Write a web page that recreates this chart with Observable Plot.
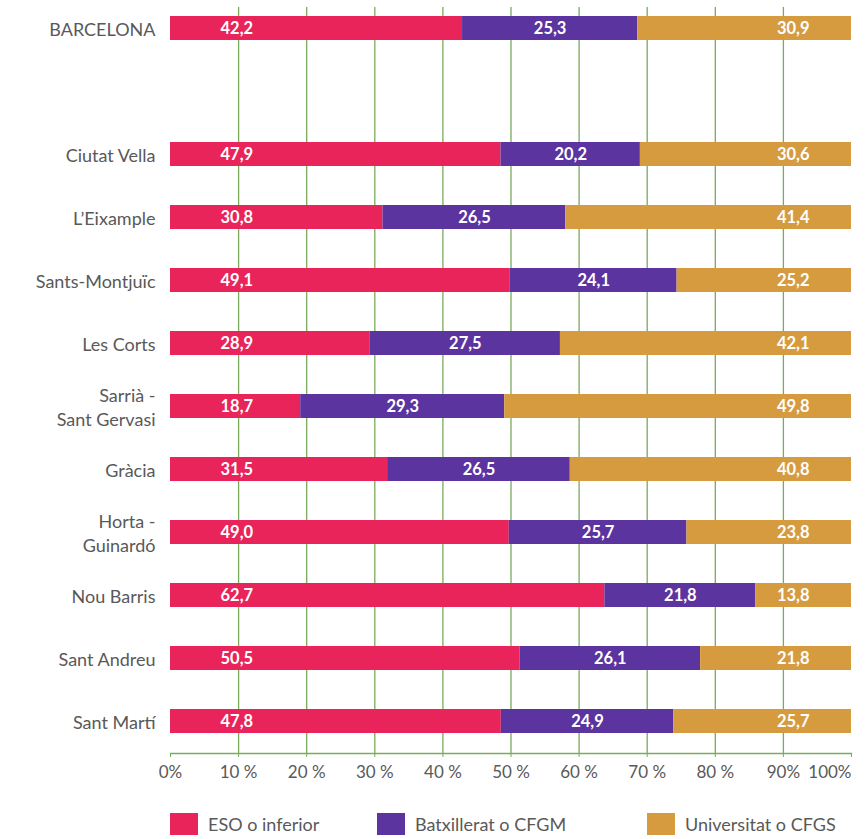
<!DOCTYPE html>
<html>
<head>
<meta charset="utf-8">
<script src="https://cdn.jsdelivr.net/npm/d3@7"></script>
<script src="https://cdn.jsdelivr.net/npm/@observablehq/plot@0.6"></script>
<style>
  body { margin: 0; background: #fff; font-family: Lato, "Open Sans", sans-serif; }
  #chart { position: relative; width: 868px; }
  #legend { position: relative; width: 868px; height: 49px; }
  .item { position: absolute; top: 23px; display: flex; align-items: center; font-size: 18px; color: #595959; }
  .sw { width: 28px; height: 22px; margin-right: 10px; }
</style>
</head>
<body>
<div id="chart"></div>
<div id="legend"></div>
<script>
const districts = ["BARCELONA", "Ciutat Vella", "L’Eixample", "Sants-Montjuïc", "Les Corts",
  "Sarrià -\nSant Gervasi", "Gràcia", "Horta -\nGuinardó", "Nou Barris", "Sant Andreu", "Sant Martí"];
const eso  = [42.2, 47.9, 30.8, 49.1, 28.9, 18.7, 31.5, 49.0, 62.7, 50.5, 47.8];
const batx = [25.3, 20.2, 26.5, 24.1, 27.5, 29.3, 26.5, 25.7, 21.8, 26.1, 24.9];
const univ = [30.9, 30.6, 41.4, 25.2, 42.1, 49.8, 40.8, 23.8, 13.8, 21.8, 25.7];
const levels = ["ESO o inferior", "Batxillerat o CFGM", "Universitat o CFGS"];
const colors = ["#e8245a", "#5b34a0", "#d69b3f"];
const tickPercents = [0, 10, 20, 30, 40, 50, 60, 70, 80, 90, 100];
const tickLabels = ["0%", "10 %", "20 %", "30 %", "40 %", "50 %", "60 %", "70 %", "80 %", "90%", "100%"];

const series = [eso, batx, univ];
const data = [];
districts.forEach((d, i) => levels.forEach((l, j) => data.push({district: d, level: l, value: series[j][i]})));

const spacer = " ";
const yDomain = [districts[0], spacer, ...districts.slice(1)];
const fmt = v => v.toFixed(1).replace(".", ",");
const labelOf = new Map(tickPercents.map((p, i) => [p, tickLabels[i]]));
const ticks = tickPercents.map(p => p / 100);
const green = "#79ab5b";
const gray = "#595959";
const stackOpts = {x: "value", y: "district", z: "level", offset: "normalize"};

const chart = Plot.plot({
  width: 868,
  height: 790,
  marginLeft: 170,
  marginRight: 17,
  marginTop: 7,
  marginBottom: 37,
  style: {fontFamily: "Lato, 'Open Sans', sans-serif", background: "#fff"},
  x: {domain: [0, 1]},
  y: {domain: yDomain, paddingInner: 0.615, paddingOuter: 0.1, insetTop: 1, insetBottom: 11},
  color: {domain: levels, range: colors},
  marks: [
    Plot.gridX(ticks.slice(1, -1), {stroke: green, strokeOpacity: 1, strokeWidth: 1.3}),
    Plot.barX(data, Plot.stackX({...stackOpts, fill: "level"})),
    Plot.text(data, Plot.stackX1({...stackOpts, text: d => d.level === levels[0] ? fmt(d.value) : "",
      textAnchor: "start", dx: 50, fill: "white", fontWeight: "bold", fontSize: 16.5})),
    Plot.text(data, Plot.stackX({...stackOpts, text: d => d.level === levels[1] ? fmt(d.value) : "",
      textAnchor: "middle", fill: "white", fontWeight: "bold", fontSize: 16.5})),
    Plot.text(data, Plot.stackX2({...stackOpts, text: d => d.level === levels[2] ? fmt(d.value) : "",
      textAnchor: "end", dx: -42, fill: "white", fontWeight: "bold", fontSize: 16.5})),
    Plot.frame({anchor: "bottom", stroke: green, strokeWidth: 1.3}),
    Plot.axisX(ticks.slice(0, -1), {tickSize: 4, stroke: green, tickPadding: 8, fontSize: 17, fill: gray,
      tickFormat: d => labelOf.get(Math.round(d * 100)), label: null}),
    Plot.axisX(ticks.slice(-1), {tickSize: 4, stroke: green, tickPadding: 8, fontSize: 17, fill: gray,
      textAnchor: "end", tickFormat: d => labelOf.get(Math.round(d * 100)), label: null}),
    Plot.axisY({tickSize: 0, tickPadding: 15, fontSize: 18, fill: gray, lineHeight: 1.3, label: null,
      tickFormat: d => d === spacer ? "" : d})
  ]
});
document.getElementById("chart").appendChild(chart);

const legendLeft = [170, 377, 647];
const legend = document.getElementById("legend");
levels.forEach((l, i) => {
  const item = document.createElement("div");
  item.className = "item";
  item.style.left = legendLeft[i] + "px";
  const sw = document.createElement("div");
  sw.className = "sw";
  sw.style.background = colors[i];
  const t = document.createElement("span");
  t.textContent = l;
  item.appendChild(sw);
  item.appendChild(t);
  legend.appendChild(item);
});
</script>
</body>
</html>
